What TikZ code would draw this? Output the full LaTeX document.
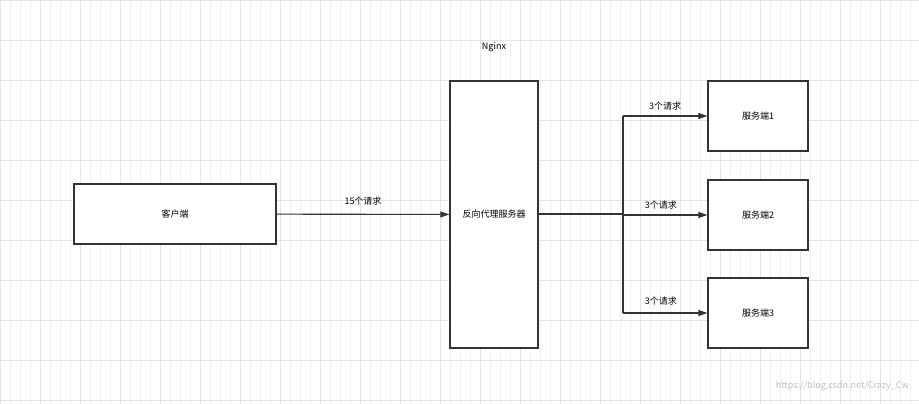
\documentclass[tikz,border=0pt]{standalone}
\usepackage{fontspec}
\setmainfont{Noto Sans CJK SC}
\usetikzlibrary{positioning,arrows.meta}
\definecolor{linegray}{HTML}{333333}
\tikzset{
  box/.style={draw=linegray,line width=1.3pt,fill=white,inner sep=0pt,font=\fontsize{9}{11}\selectfont},
  lbl/.style={font=\fontsize{9}{11}\selectfont,inner sep=1pt},
  link/.style={draw=linegray,line width=1.1pt,-{Triangle[length=9pt,width=6pt]}},
  seg/.style={draw=linegray,line width=1.1pt}
}
\begin{document}
\begin{tikzpicture}[x=1pt,y=-1pt]
		\useasboundingbox (0,0) rectangle (919,404);
		% grid
		\draw[black!6,line width=0.5pt,step=10] (0,0) grid (919,404);
		\foreach \x in {0,40,...,919} \draw[black!11,line width=0.6pt] (\x,0) -- (\x,404);
		\foreach \y in {0,40,...,404} \draw[black!11,line width=0.6pt] (0,\y) -- (919,\y);
		
		\node[box,minimum width=202pt,minimum height=60pt] (client) at (175,214) {客户端};
		\node[box,minimum width=88pt,minimum height=267pt,text width=64pt,align=center] (proxy) at (494,214.5) {反向代理服务器};
		\node[lbl] (nginx) at (494,47) {Nginx};
		\node[box,minimum width=100pt,minimum height=70pt] (srv1) at (758,116) {服务端1};
		\node[box,minimum width=100pt,minimum height=70pt] (srv2) at (758,215) {服务端2};
		\node[box,minimum width=100pt,minimum height=70pt] (srv3) at (758,313) {服务端3};
		
		\coordinate (split) at (623,214);
		\coordinate (top) at (623,116);
		\coordinate (bot) at (623,313);
		
		\draw[link] (client) -- node[lbl,above=8pt] {15个请求} (proxy);
		\draw[seg] (proxy.east |- split) -- (split);
		\draw[seg] (top) -- (bot);
		\draw[link] (top) -- node[lbl,above=4pt,pos=0.5] {3个请求} (srv1);
		\draw[link] (split |- srv2) -- node[lbl,above=4pt,pos=0.45] {3个请求} (srv2);
		\draw[link] (bot) -- node[lbl,above=6pt,pos=0.45] {3个请求} (srv3);
		
		\node[lbl,text=black!25,anchor=east] (mark) at (910,386) {https://blog.csdn.net/Crazy\_Cw};
	\end{tikzpicture}
\end{document}
